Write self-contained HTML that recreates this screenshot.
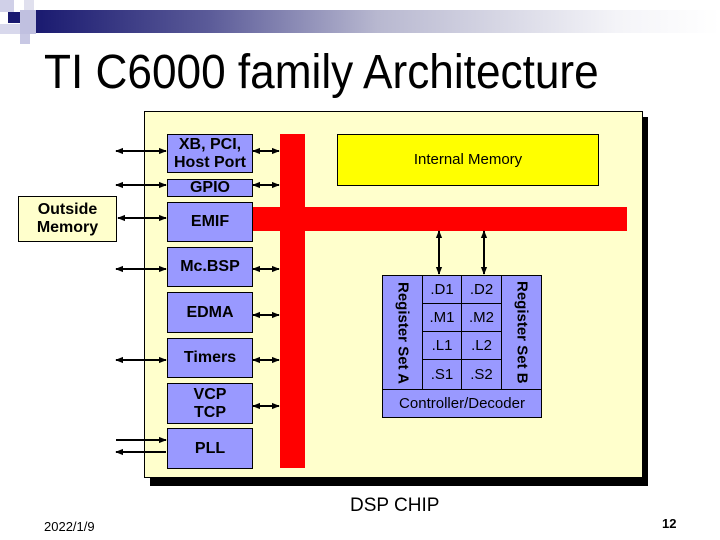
<!DOCTYPE html><html><head><style>
body{margin:0;width:720px;height:540px;background:#fff;position:relative;overflow:hidden;font-family:"Liberation Sans",sans-serif}
.a{position:absolute}
.b{position:absolute;background:#9999ff;border:1px solid #000;box-sizing:border-box;display:flex;align-items:center;justify-content:center;text-align:center;font-weight:bold;font-size:16px;line-height:18px}
</style></head><body>
<div class="a" style="left:36px;top:10px;width:684px;height:23px;background:linear-gradient(90deg,#1a1a70 0%,#5a5a98 25%,#b8b8d0 50%,#f4f4f8 85%,#fff 100%)"></div>
<div class="a" style="left:0;top:0;width:14px;height:12px;background:#d0d0e8"></div>
<div class="a" style="left:24px;top:0;width:10px;height:10px;background:#e0e0ee"></div>
<div class="a" style="left:8px;top:12px;width:12px;height:11px;background:#1a1a70"></div>
<div class="a" style="left:20px;top:10px;width:16px;height:24px;background:#c0c0e0"></div>
<div class="a" style="left:0;top:24px;width:20px;height:10px;background:#d8d8ec"></div>
<div class="a" style="left:20px;top:34px;width:10px;height:10px;background:#c8c8e4"></div>
<div class="a" style="left:44px;top:45px;font-size:48px;color:#000;transform:scaleX(0.92);transform-origin:0 0;white-space:nowrap">TI C6000 family Architecture</div>
<div class="a" style="left:150px;top:117px;width:498px;height:369px;background:#000"></div>
<div class="a" style="left:144px;top:111px;width:499px;height:367px;background:#ffffcc;border:1px solid #000;box-sizing:border-box"></div>
<div class="b" style="left:18px;top:196px;width:99px;height:46px;background:#ffffcc">Outside<br>Memory</div>
<div class="a" style="left:280px;top:134px;width:25px;height:334px;background:#f00"></div>
<div class="a" style="left:252px;top:207px;width:375px;height:24px;background:#f00"></div>
<div class="b" style="left:337px;top:134px;width:262px;height:52px;background:#ffff00;font-size:15px;font-weight:normal">Internal Memory</div>
<div class="b" style="left:167px;top:134px;width:86px;height:39px">XB, PCI,<br>Host Port</div>
<div class="b" style="left:167px;top:179px;width:86px;height:18px">GPIO</div>
<div class="b" style="left:167px;top:202px;width:86px;height:40px">EMIF</div>
<div class="b" style="left:167px;top:247px;width:86px;height:40px">Mc.BSP</div>
<div class="b" style="left:167px;top:292px;width:86px;height:41px">EDMA</div>
<div class="b" style="left:167px;top:338px;width:86px;height:40px">Timers</div>
<div class="b" style="left:167px;top:383px;width:86px;height:41px">VCP<br>TCP</div>
<div class="b" style="left:167px;top:428px;width:86px;height:41px">PLL</div>
<div class="b" style="left:382px;top:275px;width:41px;height:115px;font-size:15px"><span style="writing-mode:vertical-rl">Register Set A</span></div>
<div class="b" style="left:501px;top:275px;width:41px;height:115px;font-size:15px"><span style="writing-mode:vertical-rl">Register Set B</span></div>
<div class="b" style="left:422px;top:275px;width:40px;height:29px;font-weight:normal;font-size:15px">.D1</div>
<div class="b" style="left:461px;top:275px;width:41px;height:29px;font-weight:normal;font-size:15px">.D2</div>
<div class="b" style="left:422px;top:303px;width:40px;height:29px;font-weight:normal;font-size:15px">.M1</div>
<div class="b" style="left:461px;top:303px;width:41px;height:29px;font-weight:normal;font-size:15px">.M2</div>
<div class="b" style="left:422px;top:331px;width:40px;height:29px;font-weight:normal;font-size:15px">.L1</div>
<div class="b" style="left:461px;top:331px;width:41px;height:29px;font-weight:normal;font-size:15px">.L2</div>
<div class="b" style="left:422px;top:359px;width:40px;height:31px;font-weight:normal;font-size:15px">.S1</div>
<div class="b" style="left:461px;top:359px;width:41px;height:31px;font-weight:normal;font-size:15px">.S2</div>
<div class="b" style="left:382px;top:389px;width:160px;height:29px;font-weight:normal;font-size:15px">Controller/Decoder</div>
<svg class="a" style="left:0;top:0" width="720" height="540">
<defs><marker id="m" viewBox="0 0 10 10" refX="9" refY="5" markerWidth="4" markerHeight="4" orient="auto-start-reverse"><path d="M0,1L10,5L0,9z" fill="#000"/></marker></defs>
<g stroke="#000" stroke-width="2" marker-start="url(#m)" marker-end="url(#m)">
<line x1="116" y1="151" x2="166" y2="151"/><line x1="253" y1="151" x2="279" y2="151"/>
<line x1="116" y1="185" x2="166" y2="185"/><line x1="253" y1="185" x2="279" y2="185"/>
<line x1="118" y1="218" x2="166" y2="218"/>
<line x1="116" y1="269" x2="166" y2="269"/><line x1="253" y1="269" x2="279" y2="269"/>
<line x1="253" y1="315" x2="279" y2="315"/>
<line x1="116" y1="360" x2="166" y2="360"/><line x1="253" y1="360" x2="279" y2="360"/>
<line x1="253" y1="406" x2="279" y2="406"/>
<line x1="439" y1="231" x2="439" y2="274"/><line x1="484" y1="231" x2="484" y2="274"/>
</g>
<line x1="116" y1="440" x2="166" y2="440" stroke="#000" stroke-width="2" marker-end="url(#m)"/>
<line x1="166" y1="452" x2="116" y2="452" stroke="#000" stroke-width="2" marker-end="url(#m)"/>
</svg>
<div class="a" style="left:350px;top:495px;font-size:19px">DSP CHIP</div>
<div class="a" style="left:44px;top:519px;font-size:13px">2022/1/9</div>
<div class="a" style="left:662px;top:516px;font-size:13px;font-weight:bold">12</div>
</body></html>
